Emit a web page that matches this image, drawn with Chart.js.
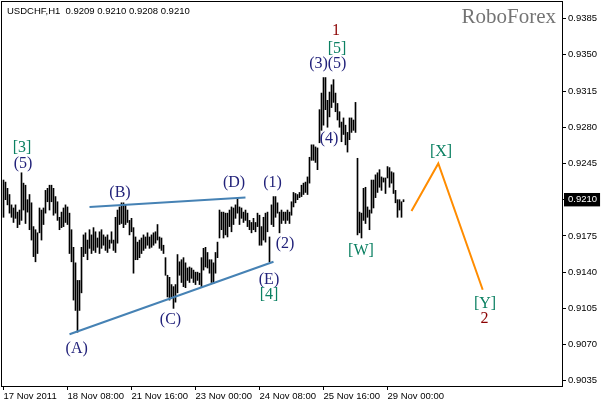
<!DOCTYPE html>
<html lang="en">
<head>
<meta charset="UTF-8">
<title>USDCHF H1</title>
<script src="https://cdn.jsdelivr.net/npm/chart.js"></script>
<style>
    body { margin: 0; background: #fff; }
    #wrap { width: 602px; height: 404px; }
</style>
</head>
<body>
<div id="wrap"><canvas id="chart" width="602" height="404"></canvas></div>
<script>
// hourly bars, high / low
const highs = [
    0.9229, 0.9227, 0.9221, 0.9215, 0.9205, 0.9202, 0.9205, 0.9198, 0.9200, 0.9236,
    0.9226, 0.9224, 0.9210, 0.9215, 0.9207, 0.9184, 0.9181, 0.9178, 0.9202, 0.9200,
    0.9202, 0.9219, 0.9221, 0.9224, 0.9224, 0.9221, 0.9213, 0.9208, 0.9193, 0.9198,
    0.9202, 0.9205, 0.9203, 0.9197, 0.9181, 0.9164, 0.9149, 0.9132, 0.9132, 0.9164,
    0.9176, 0.9178, 0.9171, 0.9181, 0.9176, 0.9183, 0.9179, 0.9173, 0.9179, 0.9181,
    0.9176, 0.9174, 0.9176, 0.9171, 0.9179, 0.9171, 0.9193, 0.9200, 0.9203, 0.9207,
    0.9207, 0.9205, 0.9200, 0.9190, 0.9192, 0.9183, 0.9174, 0.9169, 0.9171, 0.9173,
    0.9176, 0.9174, 0.9178, 0.9174, 0.9176, 0.9178, 0.9179, 0.9186, 0.9174, 0.9173,
    0.9166, 0.9154, 0.9137, 0.9135, 0.9128, 0.9126, 0.9128, 0.9157, 0.9150, 0.9152,
    0.9154, 0.9149, 0.9144, 0.9145, 0.9144, 0.9142, 0.9140, 0.9140, 0.9139, 0.9154,
    0.9163, 0.9164, 0.9159, 0.9152, 0.9152, 0.9149, 0.9159, 0.9169, 0.9200, 0.9198,
    0.9198, 0.9197, 0.9197, 0.9200, 0.9203, 0.9202, 0.9205, 0.9212, 0.9203, 0.9202,
    0.9198, 0.9200, 0.9197, 0.9190, 0.9188, 0.9192, 0.9188, 0.9197, 0.9195, 0.9184,
    0.9193, 0.9197, 0.9198, 0.9174, 0.9205, 0.9213, 0.9213, 0.9207, 0.9198, 0.9200,
    0.9198, 0.9198, 0.9200, 0.9198, 0.9208, 0.9217, 0.9216, 0.9215, 0.9217, 0.9224,
    0.9226, 0.9227, 0.9232, 0.9251, 0.9263, 0.9263, 0.9261, 0.9260, 0.9297, 0.9313,
    0.9328, 0.9328, 0.9306, 0.9314, 0.9321, 0.9326, 0.9313, 0.9303, 0.9295, 0.9285,
    0.9289, 0.9282, 0.9275, 0.9289, 0.9289, 0.9287, 0.9304, 0.9250, 0.9198, 0.9197,
    0.9221, 0.9222, 0.9203, 0.9200, 0.9229, 0.9229, 0.9234, 0.9236, 0.9239, 0.9232,
    0.9231, 0.9231, 0.9242, 0.9241, 0.9237, 0.9236, 0.9219, 0.9210, 0.9210, 0.9208,
    0.9210
];
const lows = [
    0.9193, 0.9210, 0.9205, 0.9197, 0.9193, 0.9188, 0.9192, 0.9183, 0.9186, 0.9190,
    0.9200, 0.9187, 0.9198, 0.9181, 0.9171, 0.9155, 0.9150, 0.9158, 0.9178, 0.9171,
    0.9186, 0.9197, 0.9208, 0.9200, 0.9208, 0.9195, 0.9197, 0.9190, 0.9181, 0.9183,
    0.9184, 0.9188, 0.9186, 0.9158, 0.9150, 0.9113, 0.9103, 0.9082, 0.9103, 0.9120,
    0.9155, 0.9158, 0.9152, 0.9163, 0.9158, 0.9161, 0.9159, 0.9164, 0.9158, 0.9163,
    0.9166, 0.9161, 0.9159, 0.9163, 0.9168, 0.9161, 0.9159, 0.9168, 0.9186, 0.9187,
    0.9183, 0.9186, 0.9188, 0.9176, 0.9179, 0.9139, 0.9152, 0.9152, 0.9154, 0.9158,
    0.9161, 0.9163, 0.9166, 0.9163, 0.9164, 0.9166, 0.9168, 0.9171, 0.9163, 0.9161,
    0.9158, 0.9137, 0.9116, 0.9113, 0.9115, 0.9105, 0.9111, 0.9120, 0.9137, 0.9130,
    0.9126, 0.9125, 0.9132, 0.9130, 0.9134, 0.9130, 0.9128, 0.9132, 0.9128, 0.9126,
    0.9142, 0.9145, 0.9144, 0.9139, 0.9130, 0.9129, 0.9139, 0.9154, 0.9173, 0.9181,
    0.9173, 0.9176, 0.9174, 0.9184, 0.9179, 0.9186, 0.9192, 0.9197, 0.9186, 0.9192,
    0.9188, 0.9190, 0.9184, 0.9181, 0.9178, 0.9181, 0.9179, 0.9184, 0.9166, 0.9166,
    0.9171, 0.9169, 0.9179, 0.9150, 0.9186, 0.9184, 0.9193, 0.9197, 0.9178, 0.9187,
    0.9190, 0.9187, 0.9190, 0.9187, 0.9195, 0.9203, 0.9207, 0.9210, 0.9212, 0.9213,
    0.9215, 0.9217, 0.9215, 0.9226, 0.9248, 0.9248, 0.9246, 0.9239, 0.9265, 0.9277,
    0.9282, 0.9297, 0.9280, 0.9290, 0.9299, 0.9304, 0.9295, 0.9287, 0.9280, 0.9266,
    0.9273, 0.9263, 0.9256, 0.9268, 0.9275, 0.9277, 0.9275, 0.9176, 0.9178, 0.9173,
    0.9190, 0.9187, 0.9193, 0.9181, 0.9197, 0.9202, 0.9212, 0.9217, 0.9222, 0.9219,
    0.9227, 0.9216, 0.9231, 0.9222, 0.9226, 0.9216, 0.9207, 0.9193, 0.9200, 0.9193,
    0.9208
];
const lastBar = [0.9209, 0.9210, 0.9208, 0.9210]; // open high low close

const xTickIndex = [0, 32, 64, 96, 128, 160, 192];
const xTickLabels = ['17 Nov 2011', '18 Nov 08:00', '21 Nov 16:00', '23 Nov 00:00',
                     '24 Nov 08:00', '25 Nov 16:00', '29 Nov 00:00'];
const yTicks = [0.9035, 0.9070, 0.9105, 0.9140, 0.9175, 0.9210, 0.9245, 0.9280, 0.9315, 0.9350, 0.9385];

// triangle lines and the forecast, [bar index, price]
const lowerLine = [[33, 0.9080], [135, 0.9150]];
const upperLine = [[43, 0.9203], [121, 0.9212]];
const forecast = [[204, 0.9199], [217.4, 0.9245], [239.6, 0.9123]];

// wave marks: text, bar index, price, degree
const waveLabels = [
    ['[3]', 9.25, 0.9260, 'inter'],
    ['(5)', 9.75, 0.9245, 'minor'],
    ['(A)', 36.6, 0.9066, 'minor'],
    ['(B)', 58.25, 0.9217, 'minor'],
    ['(C)', 83.5, 0.9094, 'minor'],
    ['(D)', 115.25, 0.9226, 'minor'],
    ['(E)', 132.75, 0.9133, 'minor'],
    ['[4]', 132.75, 0.9118, 'inter'],
    ['(1)', 134.5, 0.9226, 'minor'],
    ['(2)', 140.75, 0.9167, 'minor'],
    ['(3)', 157.5, 0.9341, 'minor'],
    ['(5)', 166.75, 0.9341, 'minor'],
    ['(4)', 162.75, 0.9269, 'minor'],
    ['[5]', 166.75, 0.9356, 'inter'],
    ['1', 166.25, 0.9373, 'primary'],
    ['[W]', 178.75, 0.9161, 'inter'],
    ['[X]', 218.75, 0.9256, 'inter'],
    ['[Y]', 240.75, 0.9109, 'inter'],
    ['2', 240.5, 0.9095, 'primary']
];

const degreeColor = { minor: '#22227a', inter: '#0b8062', primary: '#8b0000' };
const sans = "'Liberation Sans', Arial, sans-serif";
const serif = "'Liberation Serif', 'Times New Roman', serif";
const isLast = v => Math.abs(v - lastBar[3]) < 1e-7;

const overlay = {
    id: 'overlay',
    afterDraw(chart) {
        const { ctx, chartArea: a, scales: { x, y } } = chart;
        ctx.save();
        // frame
        ctx.strokeStyle = '#000';
        ctx.lineWidth = 1;
        ctx.strokeRect(a.left - 0.5, a.top - 0.5, a.right - a.left + 1, a.bottom - a.top + 1);

        // symbol line
        ctx.fillStyle = '#000';
        ctx.font = '9.5px ' + sans;
        ctx.textAlign = 'left';
        ctx.textBaseline = 'middle';
        ctx.fillText('USDCHF,H1  ' + lastBar.map(v => v.toFixed(4)).join(' '), 7, 11.5);

        // watermark
        ctx.fillStyle = '#747474';
        ctx.font = '21px ' + serif;
        ctx.textAlign = 'right';
        ctx.textBaseline = 'alphabetic';
        ctx.fillText('RoboForex', 556, 23);

        // wave labels
        ctx.font = '16px ' + serif;
        ctx.textAlign = 'center';
        ctx.textBaseline = 'middle';
        waveLabels.forEach(([t, i, p, d]) => {
            ctx.fillStyle = degreeColor[d];
            ctx.fillText(t, x.getPixelForValue(i), y.getPixelForValue(p));
        });
        ctx.restore();
    }
};

const toPoints = arr => arr.map(([i, p]) => ({ x: i, y: p }));

new Chart(document.getElementById('chart'), {
    type: 'bar',
    data: {
        datasets: [{
            data: highs.map((h, i) => ({ x: i, y: [lows[i], h] })),
            backgroundColor: '#000',
            borderWidth: 0,
            barThickness: 1,
            order: 5
        }, {
            type: 'line',
            data: toPoints(lowerLine),
            borderColor: '#4682b4',
            borderWidth: 2,
            pointRadius: 0,
            order: 0
        }, {
            type: 'line',
            data: toPoints(upperLine),
            borderColor: '#4682b4',
            borderWidth: 2,
            pointRadius: 0,
            order: 0
        }, {
            type: 'line',
            data: toPoints(forecast),
            borderColor: '#ff8c00',
            borderWidth: 2,
            pointRadius: 0,
            order: 0
        }]
    },
    options: {
        responsive: false,
        devicePixelRatio: 1,
        animation: false,
        events: [],
        layout: { padding: { left: 2, top: 2, right: 0, bottom: 0 } },
        plugins: {
            legend: { display: false },
            tooltip: { enabled: false }
        },
        scales: {
            x: {
                type: 'linear',
                min: -0.75,
                max: 279.25,
                offset: false,
                border: { display: false },
                grid: { offset: false, drawOnChartArea: false, drawTicks: true, tickLength: 4, color: '#000' },
                ticks: {
                    autoSkip: false,
                    maxRotation: 0,
                    minRotation: 0,
                    align: 'start',
                    padding: 1,
                    color: '#000',
                    font: { family: sans, size: 9.5 },
                    callback: v => {
                        const k = xTickIndex.indexOf(v);
                        return k < 0 ? '' : xTickLabels[k];
                    }
                },
                afterBuildTicks: s => { s.ticks = xTickIndex.map(v => ({ value: v })); },
                afterFit: s => { s.height = 18; s.paddingLeft = 0; s.paddingRight = 0; }
            },
            y: {
                position: 'right',
                min: 0.9030,
                max: 0.9401,
                border: { display: false },
                grid: { drawOnChartArea: false, drawTicks: true, tickLength: 4, color: '#000' },
                ticks: {
                    padding: 2,
                    font: { family: sans, size: 9.5 },
                    color: c => isLast(c.tick.value) ? '#fff' : '#000',
                    showLabelBackdrop: c => isLast(c.tick.value),
                    backdropColor: '#000',
                    backdropPadding: { left: 4, right: 3, top: 1, bottom: 1 },
                    callback: v => v.toFixed(4)
                },
                afterBuildTicks: s => { s.ticks = yTicks.map(v => ({ value: v })); },
                afterFit: s => { s.width = 40; s.paddingTop = 0; s.paddingBottom = 0; }
            }
        }
    },
    plugins: [overlay]
});
</script>
</body>
</html>
